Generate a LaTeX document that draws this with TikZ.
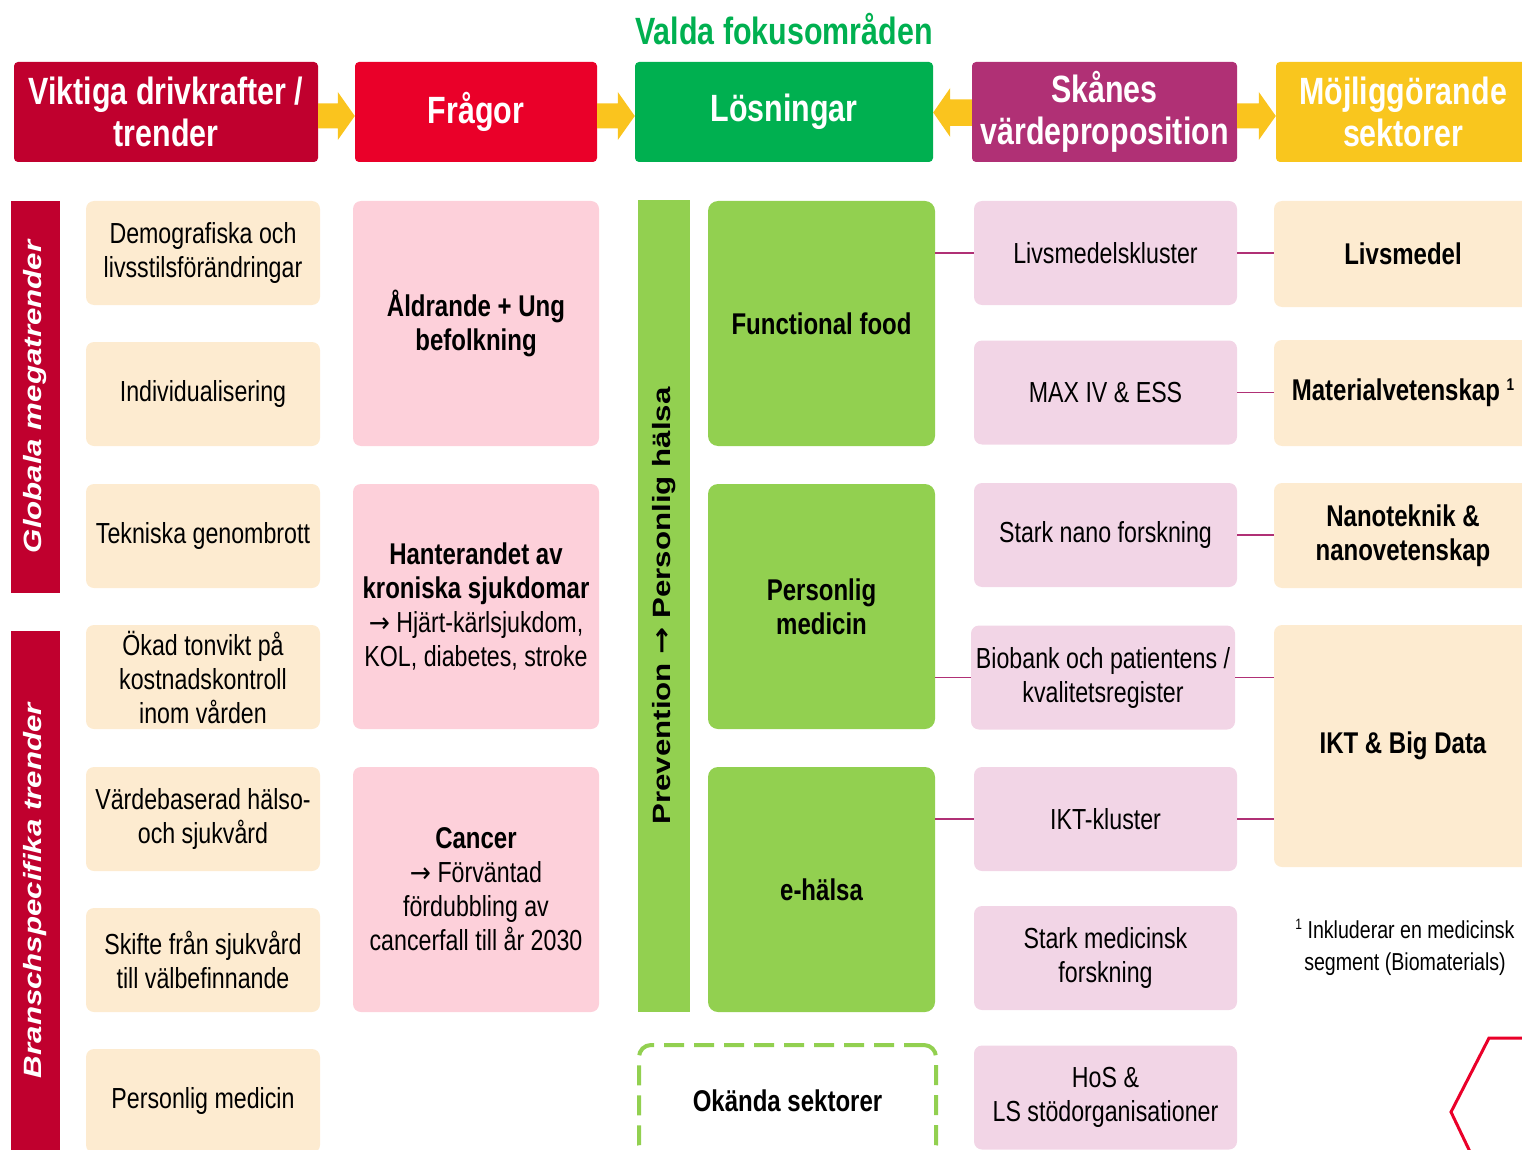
\documentclass[tikz,border=0pt]{standalone}
\usepackage{fontspec}
\setmainfont[FakeStretch=0.8]{Liberation Sans}
\newfontfamily\vfont[FakeStretch=1.25]{Liberation Sans}
\newfontfamily\arrfont[FakeStretch=0.9]{DejaVu Sans}
\newfontfamily\varrfont[FakeStretch=1.25]{DejaVu Sans}
\usetikzlibrary{calc}
\definecolor{dred}{RGB}{192,0,46}
\definecolor{hred}{RGB}{234,0,41}
\definecolor{hgreen}{RGB}{0,176,80}
\definecolor{purp}{RGB}{176,48,117}
\definecolor{yel}{RGB}{249,198,30}
\definecolor{arrowy}{RGB}{250,196,30}
\definecolor{cream}{RGB}{253,235,208}
\definecolor{qpink}{RGB}{253,208,218}
\definecolor{lgreen}{RGB}{146,208,80}
\definecolor{lpink}{RGB}{242,213,230}
\newcommand\txtarr{{\arrfont\fontsize{28}{34}\selectfont →}}
\newcommand\blockarrR[2]{%
  \fill[arrowy] ($(#1.east)+(0,-8.5)$) -- ($(#2.west)+(-17,-8.5)$) -- ($(#2.west)+(-17,-20)$)
   -- ($(#2.west)+(0,4)$) -- ($(#2.west)+(-17,28)$) -- ($(#2.west)+(-17,16.5)$)
   -- ($(#1.east)+(0,16.5)$) -- cycle;}
\newcommand\blockarrL[2]{%
  \fill[arrowy] ($(#1.west)+(0,-12.5)$) -- ($(#2.east)+(17,-12.5)$) -- ($(#2.east)+(17,-24)$)
   -- ($(#2.east)+(0,0.5)$) -- ($(#2.east)+(17,25)$) -- ($(#2.east)+(17,14)$)
   -- ($(#1.west)+(0,14)$) -- cycle;}
\begin{document}
\begin{tikzpicture}[x=1pt,y=-1pt,
  hdr/.style={rounded corners=4pt, inner sep=0pt, text=white, align=center,
    font=\fontsize{38}{42}\selectfont\bfseries},
  bx/.style={rounded corners=8pt, inner sep=0pt, align=center,
    font=\fontsize{29}{34}\selectfont},
  bb/.style={bx, font=\fontsize{30}{34}\selectfont\bfseries},
  sz/.style 2 args={minimum width=#1, minimum height=#2},
  conn/.style={draw=purp, line width=1.8pt},
  vbar/.style={rotate=90, inner sep=0pt},
  vlab/.style={vbar, fill=dred, text=white,
    font=\vfont\fontsize{25}{25}\selectfont\bfseries\itshape}
]
\clip (0,0) rectangle (1522,1150);
\useasboundingbox (0,0) rectangle (1522,1150);

% title and headers
\node[text=hgreen, font=\fontsize{38}{42}\selectfont\bfseries] (title) at (784,29) {Valda fokusområden};
\node[hdr, fill=dred, sz={304}{100}] (h1) at (166,112) {Viktiga drivkrafter /\\trender};
\node[hdr, fill=hred, sz={242}{100}] (h2) at (476,112) {Frågor};
\node[hdr, fill=hgreen, sz={298}{100}] (h3) at (784,112) {Lösningar};
\node[hdr, fill=purp, sz={265}{100}] (h4) at (1104.5,112) {Skånes\\värdeproposition};
\node[hdr, fill=yel, sz={254}{100}] (h5) at (1403,112) {Möjliggörande\\sektorer};
\blockarrR{h1}{h2}
\blockarrR{h2}{h3}
\blockarrL{h4}{h3}
\blockarrR{h4}{h5}

% left vertical labels
\node[vlab, sz={392}{49}] (glob) at (35.5,397) {Globala megatrender};
\node[vlab, sz={519}{49}] (bran) at (35.5,890.5) {Branschspecifika trender};

% column 1
\node[bx, fill=cream, sz={234}{104}] (c1) at (203,253) {Demografiska och\\livsstilsförändringar};
\node[bx, fill=cream, sz={234}{104}] (c2) at (203,394) {Individualisering};
\node[bx, fill=cream, sz={234}{104}] (c3) at (203,536) {Tekniska genombrott};
\node[bx, fill=cream, sz={234}{104}] (c4) at (203,677) {Ökad tonvikt på\\kostnadskontroll\\inom vården};
\node[bx, fill=cream, sz={234}{104}] (c5) at (203,819) {Värdebaserad hälso-\\och sjukvård};
\node[bx, fill=cream, sz={234}{104}] (c6) at (203,960) {Skifte från sjukvård\\till välbefinnande};
\node[bx, fill=cream, sz={234}{104}] (c7) at (203,1101) {Personlig medicin};

% column 2
\node[bb, fill=qpink, sz={246}{245}] (q1) at (476,323.5) {Åldrande + Ung\\befolkning};
\node[bx, fill=qpink, sz={246}{245}] (q2) at (476,606.5) {\textbf{\fontsize{30}{34}\selectfont Hanterandet av}\\\textbf{\fontsize{30}{34}\selectfont kroniska sjukdomar}\\\txtarr\ Hjärt-kärlsjukdom,\\KOL, diabetes, stroke};
\node[bx, fill=qpink, sz={246}{245}] (q3) at (476,889.5) {\textbf{\fontsize{30}{34}\selectfont Cancer}\\\txtarr\ Förväntad\\fördubbling av\\cancerfall till år 2030};

% prevention bar
\node[vbar, fill=lgreen, sz={812}{52}, font=\vfont\fontsize{25}{25}\selectfont\bfseries] (prev) at (664,606) {Prevention {\varrfont\fontsize{26}{26}\selectfont\bfseries →} Personlig hälsa};

% column 3
\node[bb, fill=lgreen, rounded corners=10pt, sz={227}{245}] (s1) at (821.5,323.5) {Functional food};
\node[bb, fill=lgreen, rounded corners=10pt, sz={227}{245}] (s2) at (821.5,606.5) {Personlig\\medicin};
\node[bb, fill=lgreen, rounded corners=10pt, sz={227}{245}] (s3) at (821.5,889.5) {e-hälsa};
\node[bb, draw=lgreen, line width=4pt, dash pattern=on 20pt off 10pt, rounded corners=12pt, sz={297}{112}] (unk) at (787.5,1101) {Okända sektorer};

% column 4
\node[bx, fill=lpink, sz={263}{104}] (v1) at (1105.5,253) {Livsmedelskluster};
\node[bx, fill=lpink, sz={263}{104}] (v2) at (1105.5,392.5) {MAX IV \& ESS};
\node[bx, fill=lpink, sz={263}{104}] (v3) at (1105.5,535) {Stark nano forskning};
\node[bx, fill=lpink, sz={264}{104}] (v4) at (1103,677.5) {Biobank och patientens /\\kvalitetsregister};
\node[bx, fill=lpink, sz={263}{104}] (v5) at (1105.5,819) {IKT-kluster};
\node[bx, fill=lpink, sz={263}{104}] (v6) at (1105.5,958) {Stark medicinsk\\forskning};
\node[bx, fill=lpink, sz={263}{104}] (v7) at (1105.5,1097.5) {HoS \&\\LS stödorganisationer};

% column 5
\node[bb, fill=cream, sz={258}{106}] (m1) at (1403,254) {Livsmedel};
\node[bb, fill=cream, sz={258}{106}] (m2) at (1403,393) {Materialvetenskap \raisebox{10pt}{\fontsize{17}{17}\selectfont 1}};
\node[bb, fill=cream, sz={258}{105}] (m3) at (1403,535.5) {Nanoteknik \&\\nanovetenskap};
\node[bb, fill=cream, sz={258}{242}] (m4) at (1403,746) {IKT \& Big Data};

% connectors
\draw[conn] (s1.east |- v1.west) -- (v1.west);
\draw[conn] (v1.east) -- (v1.east -| m1.west);
\draw[conn] (v2.east) -- (v2.east -| m2.west);
\draw[conn] (v3.east) -- (v3.east -| m3.west);
\draw[conn] (s2.east |- v4.west) -- (v4.west);
\draw[conn] (v4.east) -- (v4.east -| m4.west);
\draw[conn] (s3.east |- v5.west) -- (v5.west);
\draw[conn] (v5.east) -- (v5.east -| m4.west);

% footnote
\node[align=center, font=\fontsize{24.5}{32}\selectfont] (fn) at (1405,947) {\raisebox{9pt}{\fontsize{15}{15}\selectfont 1} Inkluderar en medicinsk\\segment (Biomaterials)};

% red outline fragment
\draw[hred, line width=3pt, line join=miter] (1530,1038) -- (1489,1038) -- (1451,1112) -- (1472,1156);
\end{tikzpicture}
\end{document}
